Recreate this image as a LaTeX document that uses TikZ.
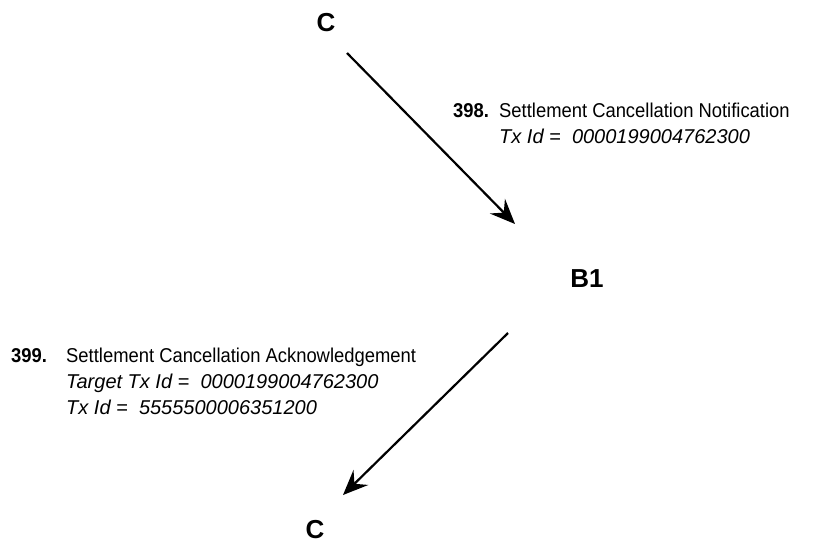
\documentclass[tikz,border=0pt]{standalone}
\usepackage{fontspec}
\setmainfont{Liberation Sans}
\newfontfamily\narrowsans[FakeStretch=0.92]{Liberation Sans}
\usetikzlibrary{arrows.meta,calc}
\begin{document}
\begin{tikzpicture}[x=1pt,y=-1pt,
  party/.style={font=\fontsize{26}{28}\selectfont\bfseries, inner sep=0pt},
  msgnum/.style={font=\fontsize{20}{26}\selectfont\narrowsans\bfseries, inner sep=0pt, anchor=base west},
  msgtext/.style={font=\fontsize{20}{26}\selectfont, inner sep=0pt, anchor=base west},
  flow/.style={line width=2.2pt, -{Stealth[length=25pt,width=21pt,inset=9pt]}}]
  \useasboundingbox (0,0) rectangle (830,547);

  % participants
  \node[party] (ctop) at (326,23) {C};
  \node[party] (b1)   at (587,279) {B1};
  \node[party] (cbot) at (315,530) {C};

  % message 398
  \node[msgnum]  (n398) at (453,117) {398.};
  \node[msgtext] (m398) at (499,117) {\begin{tabular}[t]{@{}l@{}}
      {\narrowsans Settlement Cancellation Notification}\\
      \itshape Tx Id =\ \ 0000199004762300
    \end{tabular}};

  % message 399
  \node[msgnum]  (n399) at (11,362) {399.};
  \node[msgtext] (m399) at (66,362) {\begin{tabular}[t]{@{}l@{}}
      {\narrowsans Settlement Cancellation Acknowledgement}\\
      \itshape Target Tx Id =\ \ 0000199004762300\\
      \itshape Tx Id =\ \ 5555500006351200
    \end{tabular}};

  % flows
  \draw[flow] ([shift={(21,30)}]ctop.center) -- ([shift={(-72,-55)}]b1.center);
  \draw[flow] ([shift={(-79,54)}]b1.center) -- ([shift={(28,-35)}]cbot.center);
\end{tikzpicture}
\end{document}
